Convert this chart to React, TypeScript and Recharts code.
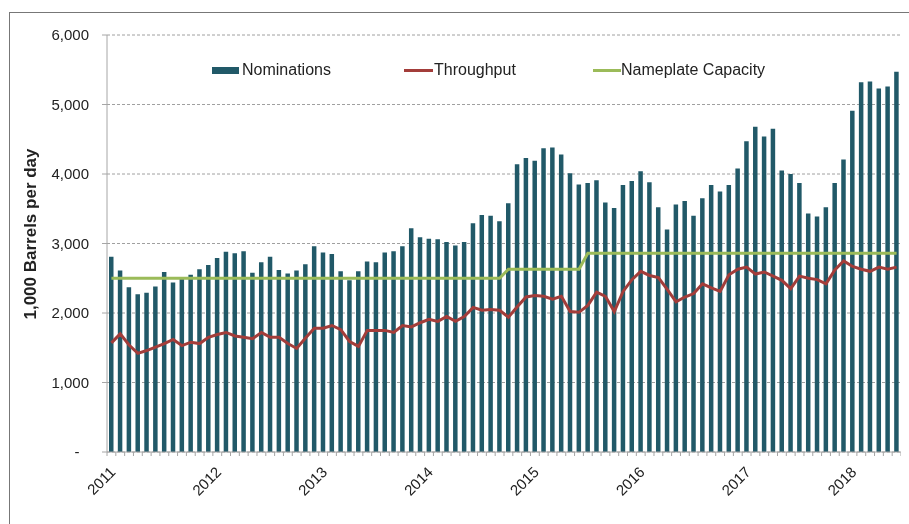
import { ComposedChart, Bar, Line, XAxis, YAxis, CartesianGrid } from 'recharts';

const years = [2011, 2012, 2013, 2014, 2015, 2016, 2017, 2018];

// Jan 2011 .. Jun 2018, monthly
const nominations = [
  2810, 2610, 2370, 2270, 2290, 2380, 2590, 2440, 2490, 2550, 2630, 2690,
  2790, 2880, 2860, 2890, 2580, 2730, 2810, 2620, 2570, 2610, 2700, 2960,
  2870, 2850, 2600, 2470, 2600, 2740, 2730, 2870, 2890, 2960, 3220, 3090,
  3070, 3060, 3020, 2970, 3020, 3290, 3410, 3400, 3320, 3580, 4140, 4230,
  4190, 4370, 4380, 4280, 4010, 3850, 3870, 3910, 3590, 3510, 3840, 3900,
  4040, 3880, 3520, 3200, 3560, 3610, 3400, 3650, 3840, 3750, 3840, 4080,
  4470, 4680, 4540, 4650, 4050, 4000, 3870, 3430, 3390, 3520, 3870, 4210,
  4910, 5320, 5330, 5230, 5260, 5470,
];

const throughput = [
  1570, 1700, 1540, 1420, 1460, 1510, 1560, 1620, 1530, 1580, 1560, 1650,
  1690, 1720, 1670, 1650, 1630, 1720, 1650, 1650, 1560, 1490, 1640, 1780,
  1780, 1820, 1760, 1590, 1520, 1750, 1750, 1750, 1720, 1820, 1800, 1860,
  1910, 1880, 1950, 1880, 1950, 2080, 2040, 2050, 2040, 1940, 2090, 2230,
  2250, 2240, 2200, 2240, 2020, 2010, 2110, 2300, 2240, 2020, 2310, 2480,
  2600, 2540, 2510, 2340, 2160, 2230, 2280, 2420, 2360, 2310, 2550, 2630,
  2660, 2560, 2590, 2530, 2470, 2350, 2530, 2500, 2480, 2420, 2620, 2750,
  2670, 2630, 2600, 2660, 2630, 2660,
];

const capacity = [
  2500, 2500, 2500, 2500, 2500, 2500, 2500, 2500, 2500, 2500, 2500, 2500,
  2500, 2500, 2500, 2500, 2500, 2500, 2500, 2500, 2500, 2500, 2500, 2500,
  2500, 2500, 2500, 2500, 2500, 2500, 2500, 2500, 2500, 2500, 2500, 2500,
  2500, 2500, 2500, 2500, 2500, 2500, 2500, 2500, 2500, 2630, 2630, 2630,
  2630, 2630, 2630, 2630, 2630, 2630, 2860, 2860, 2860, 2860, 2860, 2860,
  2860, 2860, 2860, 2860, 2860, 2860, 2860, 2860, 2860, 2860, 2860, 2860,
  2860, 2860, 2860, 2860, 2860, 2860, 2860, 2860, 2860, 2860, 2860, 2860,
  2860, 2860, 2860, 2860, 2860, 2860,
];

const yTicks = [0, 1000, 2000, 3000, 4000, 5000, 6000];

const data = nominations.map((v, i) => ({
  month: `${years[Math.floor(i / 12)]}-${String((i % 12) + 1).padStart(2, '0')}`,
  nominations: v,
  throughput: throughput[i],
  capacity: capacity[i],
}));

const FONT = '"Liberation Sans", Arial, sans-serif';
const W = 901;
const H = 508;
const MARGIN = { top: 27, right: 8, left: 39, bottom: 14 };
const Y_W = 60;
const BAND = (W - MARGIN.left - MARGIN.right - Y_W) / data.length;

function XTick(props: any) {
  const { x, y, payload } = props;
  const idx = payload.index ?? props.index;
  const y0 = y - 4;
  const [yr, mo] = String(payload.value).split('-');
  return (
    <g>
      <line x1={x - BAND / 2} x2={x - BAND / 2} y1={y0} y2={y0 + 4} stroke="#a6a6a6" />
      {idx === data.length - 1 && (
        <line x1={x + BAND / 2} x2={x + BAND / 2} y1={y0} y2={y0 + 4} stroke="#a6a6a6" />
      )}
      {mo === '01' && (
        <text
          transform={`translate(${x + 5},${y0 + 21}) rotate(-45)`}
          textAnchor="end"
          fontSize={15}
          fill="#222"
          fontFamily={FONT}
        >
          {yr}
        </text>
      )}
    </g>
  );
}

function YTick(props: any) {
  const { x, y, payload } = props;
  const v = payload.value;
  if (v === 0) {
    return (
      <text x={x - 12} y={y} dy="0.35em" textAnchor="middle" fontSize={15} fill="#222" fontFamily={FONT}>
        -
      </text>
    );
  }
  return (
    <text x={x} y={y} dy="0.35em" textAnchor="end" fontSize={15} fill="#222" fontFamily={FONT}>
      {v.toLocaleString('en-US')}
    </text>
  );
}

export default function App() {
  return (
    <div style={{ position: 'relative', width: W, height: H, fontFamily: FONT }}>
      <div
        style={{
          position: 'fixed',
          left: 9,
          top: 12,
          width: 900,
          height: 512,
          borderTop: '1.5px solid #777',
          borderLeft: '1.5px solid #777',
          boxSizing: 'border-box',
          pointerEvents: 'none',
        }}
      />
      <ComposedChart width={W} height={H} data={data} margin={MARGIN}>
        <CartesianGrid vertical={false} stroke="#a0a0a0" strokeDasharray="3 2" />
        <XAxis
          dataKey="month"
          interval={0}
          height={50}
          tickLine={false}
          tickSize={4}
          tickMargin={0}
          axisLine={{ stroke: '#a6a6a6' }}
          tick={<XTick />}
        />
        <YAxis
          width={Y_W}
          domain={[0, 6000]}
          ticks={yTicks}
          tickSize={5}
          tickMargin={13}
          axisLine={{ stroke: '#a6a6a6' }}
          tickLine={{ stroke: '#a6a6a6' }}
          tick={<YTick />}
        />
        <Bar dataKey="nominations" fill="#215968" barSize={4.5} isAnimationActive={false} />
        <Line
          type="linear"
          dataKey="throughput"
          stroke="#a33d3a"
          strokeWidth={3}
          dot={false}
          isAnimationActive={false}
        />
        <Line
          type="linear"
          dataKey="capacity"
          stroke="#9bbb59"
          strokeWidth={3}
          dot={false}
          isAnimationActive={false}
        />
      </ComposedChart>
      <div
        style={{
          position: 'absolute',
          left: 23,
          top: 226,
          transform: 'translate(-50%, -50%) rotate(-90deg)',
          whiteSpace: 'nowrap',
          fontWeight: 'bold',
          fontSize: 17,
          color: '#222',
        }}
      >
        1,000 Barrels per day
      </div>
      <div style={{ position: 'absolute', left: 0, top: 52, fontSize: 16, color: '#222' }}>
        <div style={{ position: 'absolute', left: 204, top: 7, width: 27, height: 7, background: '#215968' }} />
        <div style={{ position: 'absolute', left: 234, top: 0, whiteSpace: 'nowrap', lineHeight: '20px' }}>Nominations</div>
        <div style={{ position: 'absolute', left: 396, top: 9, width: 29, height: 3, background: '#a33d3a' }} />
        <div style={{ position: 'absolute', left: 426, top: 0, whiteSpace: 'nowrap', lineHeight: '20px' }}>Throughput</div>
        <div style={{ position: 'absolute', left: 585, top: 9, width: 28, height: 3, background: '#9bbb59' }} />
        <div style={{ position: 'absolute', left: 613, top: 0, whiteSpace: 'nowrap', lineHeight: '20px' }}>Nameplate Capacity</div>
      </div>
    </div>
  );
}
